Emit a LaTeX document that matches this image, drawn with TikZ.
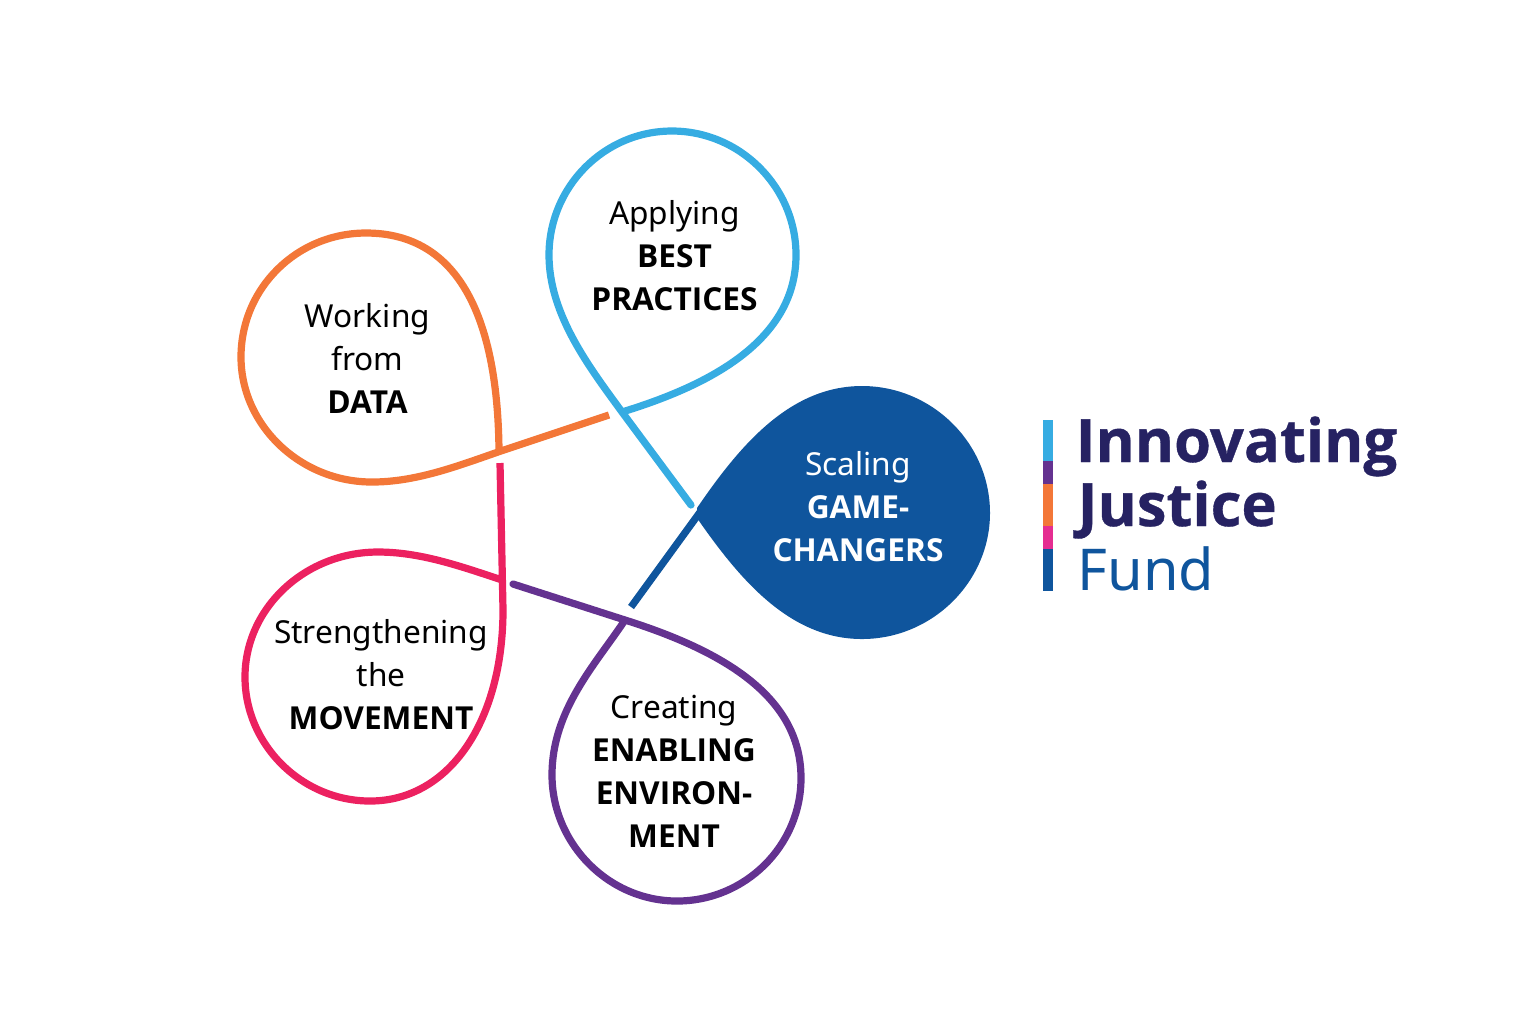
\documentclass[tikz,border=0pt]{standalone}
\usepackage{fontspec}
\setmainfont{Noto Sans}
\newfontfamily\heavyfont{Open Sans}
\newfontfamily\logofont{Open Sans}[BoldFeatures={FakeBold=0.6}]
\newcommand{\hv}[1]{{\heavyfont\bfseries #1}}
\newcommand{\logotxt}[1]{{\logofont\bfseries\fontsize{17}{20}\selectfont #1}}
\usepackage{tikz}
\definecolor{bestblue}{HTML}{36ACE2}
\definecolor{dataorange}{HTML}{F37738}
\definecolor{movepink}{HTML}{EC2160}
\definecolor{enablepurple}{HTML}{643290}
\definecolor{gameblue}{HTML}{0F559D}
\definecolor{logopink}{HTML}{E52D91}
\definecolor{logonavy}{HTML}{262262}
\begin{document}
\begin{tikzpicture}[x=0.01cm,y=-0.01cm]
\tikzstyle{petal}=[line width=2.05pt, line join=round]
\tikzstyle{caption}=[align=center, font=\fontsize{9}{12.2}\selectfont]
\tikzstyle{logoword}=[anchor=base west, inner sep=0pt, font=\fontsize{16.4}{20}\selectfont]
\tikzstyle{logobar}=[minimum width=0.1cm, inner sep=0pt, anchor=north west]
\useasboundingbox (0,0) rectangle (1534,1020);
% the five loops
\draw[petal, bestblue, line cap=round] (691,505) -- (622,412) .. controls (590,368) and (549,315) .. (549,255) .. controls (549,187) and (604,131) .. (672,131) .. controls (740,131) and (796,187) .. (796,255) .. controls (796,345) and (700,388) .. (622,412);
\draw[petal, dataorange] (609,415) -- (498,452) .. controls (455,467) and (415,482) .. (372,482) .. controls (300,482) and (241,425) .. (241,357) .. controls (241,288) and (297,233) .. (366,233) .. controls (460,233) and (498,320) .. (499,452);
\draw[petal, movepink] (500,463) -- (503,610) .. controls (503,720) and (450,801) .. (370,801) .. controls (302,801) and (245,745) .. (245,677) .. controls (245,608) and (305,552) .. (378,552) .. controls (420,552) and (460,566) .. (502,580);
\draw[petal, enablepurple, line cap=round] (513,584) -- (625,620) .. controls (720,650) and (801,695) .. (801,778) .. controls (801,846) and (745,901) .. (677,901) .. controls (608,901) and (552,843) .. (552,775) .. controls (552,710) and (595,665) .. (625,620);
\draw[petal, gameblue] (631,607) -- (703,508);
\fill[gameblue] (697,508) .. controls (740,445) and (790,386) .. (862,386) .. controls (932,386) and (990,443) .. (990,513) .. controls (990,582) and (932,639) .. (862,639) .. controls (790,639) and (740,580) .. (697,518) -- cycle;
% captions
\node[caption] (best) at (674.5,256) {Applying\\\hv{BEST}\\\hv{PRACTICES}};
\node[caption] (data) at (367.5,358.5) {Working\\from\\\hv{DATA}};
\node[caption] (movement) at (381,675) {Strengthening\\the\\\hv{MOVEMENT}};
\node[caption] (enabling) at (674,771) {Creating\\\hv{ENABLING}\\\hv{ENVIRON-}\\\hv{MENT}};
\node[caption, text=white] (game) at (858,507) {Scaling\\\hv{GAME-}\\\hv{CHANGERS}};
% logo
\node[logobar, fill=bestblue, minimum height=0.41cm] (bar1) at (1042.5,419.5) {};
\node[logobar, fill=enablepurple, minimum height=0.23cm] (bar2) at (1042.5,460.5) {};
\node[logobar, fill=dataorange, minimum height=0.42cm] (bar3) at (1042.5,483.5) {};
\node[logobar, fill=logopink, minimum height=0.23cm] (bar4) at (1042.5,525.5) {};
\node[logobar, fill=gameblue, minimum height=0.42cm] (bar5) at (1042.5,548.5) {};
\node[logoword, text=logonavy] (innovating) at (1075,462) {\logotxt{Innovating}};
\node[logoword, text=logonavy] (justice) at (1077,526) {\logotxt{Justice}};
\node[logoword, text=gameblue] (fund) at (1077,590) {Fund};
\end{tikzpicture}
\end{document}
